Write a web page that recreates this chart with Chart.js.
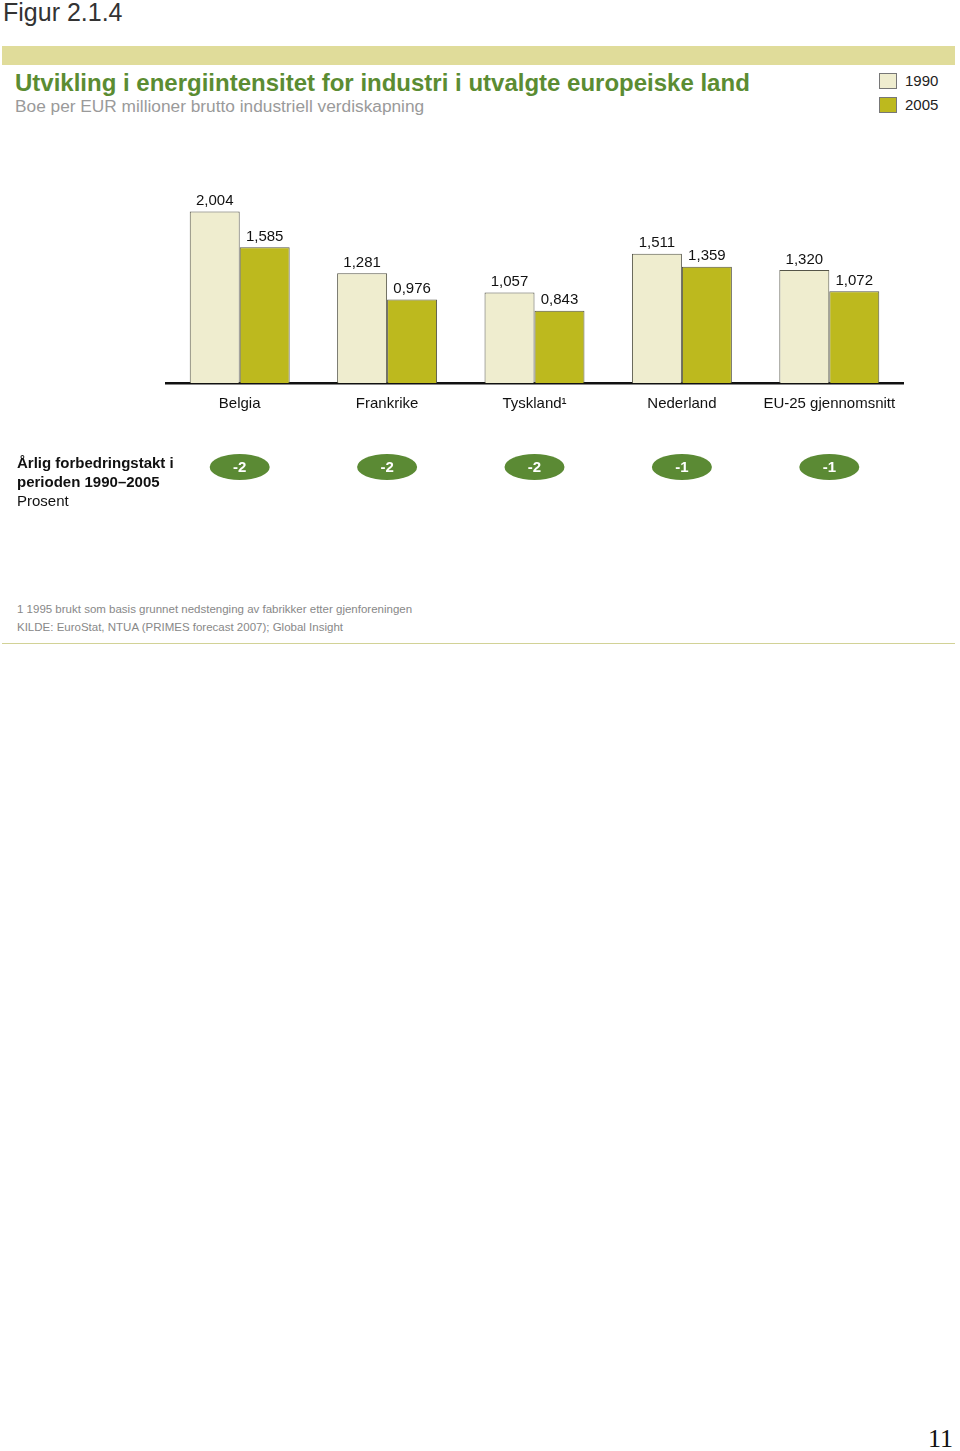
<!DOCTYPE html>
<html><head><meta charset="utf-8">
<script src="https://cdn.jsdelivr.net/npm/chart.js@4.4.1/dist/chart.umd.min.js"></script>
<style>
html,body{margin:0;padding:0;background:#fff;}
body{width:960px;height:1451px;position:relative;overflow:hidden;font-family:"Liberation Sans",Arial,Helvetica,sans-serif;}
.abs{position:absolute;white-space:nowrap;}
#band{left:2px;top:46px;width:953px;height:19px;background:#e0dc9a;}
#rule{left:2px;top:643px;width:953px;height:1px;background:#d2d296;}
.box{position:absolute;width:16px;height:14px;border:1px solid #777;}
#cv{position:absolute;left:0;top:150px;}
</style></head><body>
<div class="abs" style="left:3px;top:-2px;font-size:25px;color:#333;">Figur 2.1.4</div>
<div class="abs" id="band"></div>
<div class="abs" style="left:15px;top:69px;font-size:24px;font-weight:bold;color:#5b8c32;">Utvikling i energiintensitet for industri i utvalgte europeiske land</div>
<div class="abs" style="left:15px;top:96px;font-size:17.3px;color:#9a9a9a;">Boe per EUR millioner brutto industriell verdiskapning</div>
<div class="box" style="left:879px;top:73px;background:#efedcf;"></div>
<div class="abs" style="left:905px;top:72px;font-size:15px;color:#222;">1990</div>
<div class="box" style="left:879px;top:97px;background:#bdb91e;"></div>
<div class="abs" style="left:905px;top:96px;font-size:15px;color:#222;">2005</div>
<canvas id="cv" width="960" height="370"></canvas>
<div class="abs" style="left:17px;top:453px;font-size:15px;line-height:19px;color:#111;"><b>Årlig forbedringstakt i<br>perioden 1990–2005</b><br>Prosent</div>
<div class="abs" style="left:17px;top:603px;font-size:11.5px;color:#888;">1 1995 brukt som basis grunnet nedstenging av fabrikker etter gjenforeningen</div>
<div class="abs" style="left:17px;top:621px;font-size:11.5px;color:#888;">KILDE: EuroStat, NTUA (PRIMES forecast 2007); Global Insight</div>
<div class="abs" id="rule"></div>
<div class="abs" style="left:928px;top:1424px;font-size:26px;font-family:'Liberation Serif','DejaVu Serif',serif;color:#111;">11</div>
<script>
const categories = ["Belgia", "Frankrike", "Tyskland\u00B9", "Nederland", "EU-25 gjennomsnitt"];
const values1990 = [2.004, 1.281, 1.057, 1.511, 1.320];
const values2005 = [1.585, 0.976, 0.843, 1.359, 1.072];
const labels1990 = ["2,004", "1,281", "1,057", "1,511", "1,320"];
const labels2005 = ["1,585", "0,976", "0,843", "1,359", "1,072"];
const annualRate = ["-2", "-2", "-2", "-1", "-1"];

const extras = {
  id: "extras",
  afterDatasetsDraw(chart) {
    const ctx = chart.ctx;
    ctx.save();
    ctx.font = "15px 'Liberation Sans', Arial, sans-serif";
    ctx.fillStyle = "#111";
    ctx.textAlign = "center";
    ctx.textBaseline = "bottom";
    const lbls = [labels1990, labels2005];
    chart.data.datasets.forEach((ds, di) => {
      chart.getDatasetMeta(di).data.forEach((bar, i) => {
        ctx.fillText(lbls[di][i], bar.x, bar.y - 3);
      });
    });
    const xs = chart.scales.x;
    categories.forEach((c, i) => {
      const cx = xs.getPixelForValue(i);
      const cy = 317;
      ctx.beginPath();
      ctx.ellipse(cx, cy, 30, 13, 0, 0, Math.PI * 2);
      ctx.fillStyle = "#5b8a34";
      ctx.fill();
      ctx.fillStyle = "#fff";
      ctx.font = "bold 15px 'Liberation Sans', Arial, sans-serif";
      ctx.textBaseline = "middle";
      ctx.fillText(annualRate[i], cx, cy + 1);
    });
    ctx.restore();
  }
};

new Chart(document.getElementById("cv"), {
  type: "bar",
  data: {
    labels: categories,
    datasets: [
      { label: "1990", data: values1990, backgroundColor: "#efedcf", borderColor: "#555548", borderWidth: 1, borderSkipped: "bottom" },
      { label: "2005", data: values2005, backgroundColor: "#bdb91e", borderColor: "#555548", borderWidth: 1, borderSkipped: "bottom" }
    ]
  },
  options: {
    responsive: false,
    animation: false,
    devicePixelRatio: 1,
    layout: { padding: { left: 166, right: 57, top: 19, bottom: 0 } },
    plugins: { legend: { display: false }, tooltip: { enabled: false } },
    datasets: { bar: { categoryPercentage: 0.678, barPercentage: 1.0 } },
    scales: {
      x: {
        grid: { display: false, drawTicks: false },
        border: { display: true, color: "#111", width: 2.5 },
        ticks: { color: "#111", font: { size: 15, family: "'Liberation Sans', Arial, sans-serif" }, padding: 12, maxRotation: 0, autoSkip: false },
        afterFit: (s) => { s.height = 137; }
      },
      y: { display: false, min: 0, max: 2.5 }
    }
  },
  plugins: [extras]
});
</script>
</body></html>
